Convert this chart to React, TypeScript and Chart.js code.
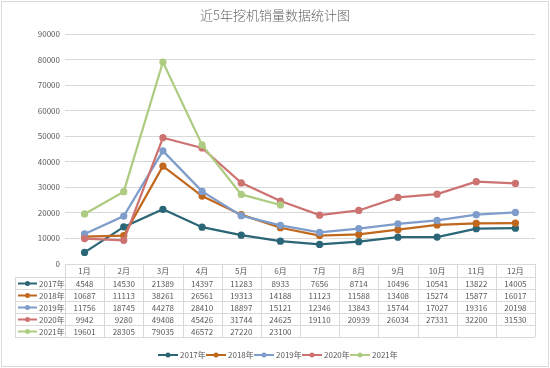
import React, { useEffect, useRef } from "react";
import { Chart, registerables } from "chart.js";

Chart.register(...registerables);

const title = "近5年挖机销量数据统计图";
const months = ["1月", "2月", "3月", "4月", "5月", "6月", "7月", "8月", "9月", "10月", "11月", "12月"];
const years = ["2017年", "2018年", "2019年", "2020年", "2021年"];
const s2017 = [4548, 14530, 21389, 14397, 11283, 8933, 7656, 8714, 10496, 10541, 13822, 14005];
const s2018 = [10687, 11113, 38261, 26561, 19313, 14188, 11123, 11588, 13408, 15274, 15877, 16017];
const s2019 = [11756, 18745, 44278, 28410, 18897, 15121, 12346, 13843, 15744, 17027, 19316, 20198];
const s2020 = [9942, 9280, 49408, 45426, 31744, 24625, 19110, 20939, 26034, 27331, 32200, 31530];
const s2021 = [19601, 28305, 79035, 46572, 27220, 23100];
const colors = ["#2B6677", "#C0681E", "#7E9DCB", "#CC7372", "#AECB82"];

const FONT = "'Noto Sans CJK SC', 'Liberation Sans', sans-serif";
const TXT = "#595959";
const LINE = "#d9d9d9";

export default function App() {
  const ref = useRef<HTMLCanvasElement>(null);
  useEffect(() => {
    document.body.style.margin = "0";
    const series = [s2017, s2018, s2019, s2020, s2021];
    const tablePlugin = {
      id: "tablePlugin",
      beforeDraw(chart: any) {
        const ctx = chart.ctx;
        ctx.save();
        ctx.fillStyle = "#fff";
        ctx.fillRect(0, 0, chart.width, chart.height);
        ctx.strokeStyle = LINE;
        ctx.lineWidth = 1;
        ctx.strokeRect(1.5, 1.5, chart.width - 3, chart.height - 3);
        ctx.fillStyle = "#666";
        ctx.font = `300 13px ${FONT}`;
        ctx.textAlign = "center";
        ctx.textBaseline = "middle";
        ctx.fillText(title, chart.width / 2, 15);
        ctx.restore();
      },
      afterDraw(chart: any) {
        const ctx = chart.ctx;
        const ca = chart.chartArea;
        const xs = chart.scales.x;
        const colW = (ca.right - ca.left) / months.length;
        const top = ca.bottom;
        const headH = 13;
        const rowH = 12;
        const tableLeft = 15;
        const bottom = top + headH + rowH * years.length;
        ctx.save();
        ctx.strokeStyle = LINE;
        ctx.lineWidth = 1;
        ctx.beginPath();
        for (let i = 0; i <= months.length; i++) {
          const x = Math.round(ca.left + i * colW) + 0.5;
          ctx.moveTo(x, top);
          ctx.lineTo(x, bottom);
        }
        ctx.moveTo(tableLeft + 0.5, top + headH);
        ctx.lineTo(tableLeft + 0.5, bottom);
        for (let r = 0; r <= years.length; r++) {
          const y = Math.round(top + headH + r * rowH) + 0.5;
          ctx.moveTo(tableLeft, y);
          ctx.lineTo(ca.right, y);
        }
        ctx.stroke();
        ctx.fillStyle = TXT;
        ctx.textAlign = "center";
        ctx.textBaseline = "middle";
        ctx.font = `8px ${FONT}`;
        months.forEach((m, i) => {
          ctx.fillText(m, xs.getPixelForValue(i), top + headH / 2 + 0.5);
        });
        series.forEach((s, r) => {
          const cy = top + headH + r * rowH + rowH / 2 + 0.5;
          s.forEach((v, i) => {
            ctx.fillText(String(v), xs.getPixelForValue(i), cy);
          });
          ctx.strokeStyle = colors[r];
          ctx.lineWidth = 2;
          ctx.beginPath();
          ctx.moveTo(18, cy);
          ctx.lineTo(37, cy);
          ctx.stroke();
          ctx.fillStyle = colors[r];
          ctx.beginPath();
          ctx.arc(27.5, cy, 2.5, 0, Math.PI * 2);
          ctx.fill();
          ctx.fillStyle = TXT;
          ctx.textAlign = "left";
          ctx.fillText(years[r], 39, cy);
          ctx.textAlign = "center";
        });
        const itemW = 48;
        const x0 = chart.width / 2 - (itemW * years.length) / 2 + 3;
        const ly = 355;
        years.forEach((yname, r) => {
          const lx = x0 + r * itemW;
          ctx.strokeStyle = colors[r];
          ctx.lineWidth = 2;
          ctx.beginPath();
          ctx.moveTo(lx, ly);
          ctx.lineTo(lx + 20, ly);
          ctx.stroke();
          ctx.fillStyle = colors[r];
          ctx.beginPath();
          ctx.arc(lx + 10, ly, 2.5, 0, Math.PI * 2);
          ctx.fill();
          ctx.fillStyle = TXT;
          ctx.textAlign = "left";
          ctx.fillText(yname, lx + 22, ly);
        });
        ctx.restore();
      },
    };
    const chart = new Chart(ref.current!, {
      type: "line",
      data: {
        labels: months,
        datasets: series.map((s, i) => ({
          label: years[i],
          data: s,
          borderColor: colors[i],
          backgroundColor: colors[i],
          pointBackgroundColor: colors[i],
          pointBorderColor: colors[i],
          pointRadius: 2.5,
          borderWidth: 2.25,
          order: series.length - i,
          tension: 0,
        })),
      },
      options: {
        responsive: false,
        animation: false,
        devicePixelRatio: 1,
        layout: { padding: { left: 0, right: 15, top: 34, bottom: 104 } },
        plugins: { legend: { display: false }, title: { display: false }, tooltip: { enabled: false } },
        scales: {
          x: { display: false, offset: true },
          y: {
            min: 0,
            max: 90000,
            afterFit: (scale: any) => {
              scale.width = 65;
            },
            ticks: {
              stepSize: 10000,
              color: TXT,
              font: { size: 8, family: FONT },
              padding: 5,
              callback: (v: any) => String(v),
            },
            grid: { color: LINE, drawTicks: false },
            border: { display: false },
          },
        },
      },
      plugins: [tablePlugin],
    });
    return () => chart.destroy();
  }, []);
  return (
    <div style={{ width: 550, height: 368 }}>
      <canvas ref={ref} width={550} height={368} />
    </div>
  );
}
